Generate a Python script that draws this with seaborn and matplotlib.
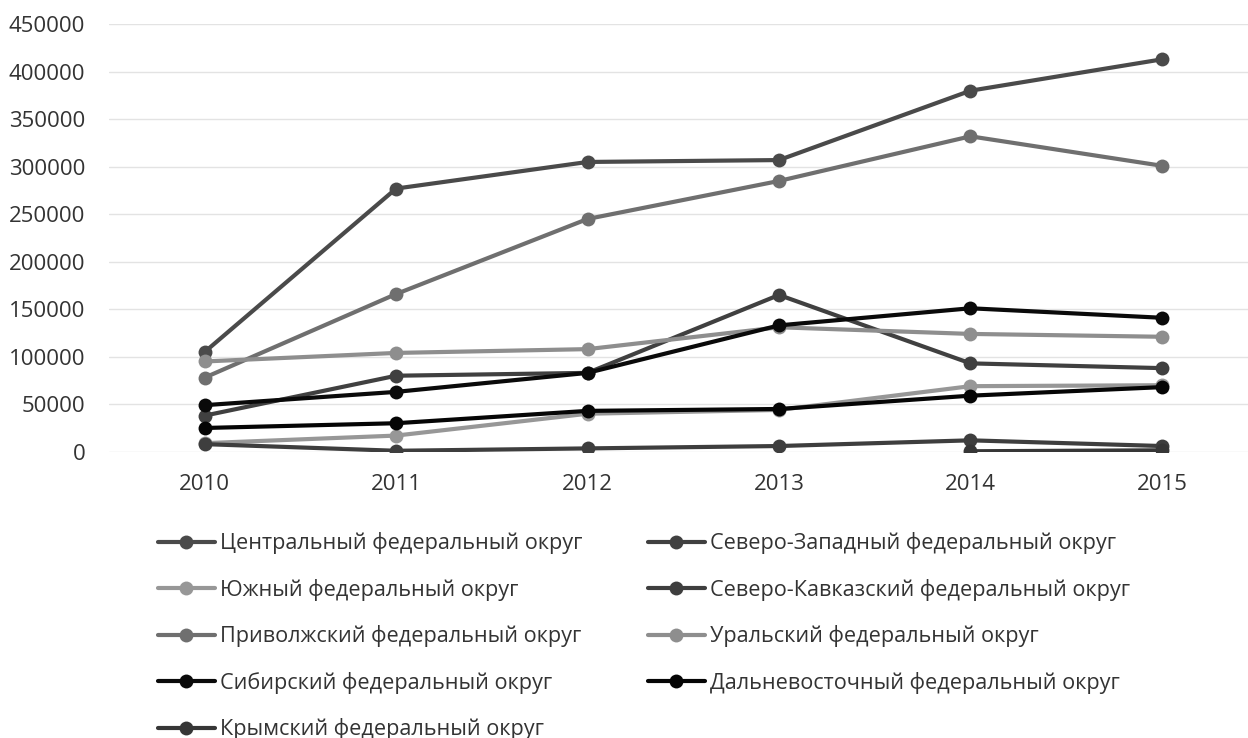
import numpy as np
import pandas as pd
import matplotlib
matplotlib.use("Agg")
import matplotlib.pyplot as plt
import seaborn as sns

years = [2010, 2011, 2012, 2013, 2014, 2015]

central = [105000, 277000, 305000, 307000, 380000, 413000]
northwest = [38000, 80000, 83000, 165000, 93000, 88000]
south = [9000, 17000, 40000, 44000, 69000, 70000]
north_caucasus = [8000, 1000, 3500, 6000, 12000, 6000]
volga = [78000, 166000, 245000, 285000, 332000, 301000]
ural = [95000, 104000, 108000, 131000, 124000, 121000]
siberian = [49000, 63000, 83000, 133000, 151000, 141000]
far_east = [25000, 30000, 43000, 45000, 59000, 68000]
crimea = [np.nan, np.nan, np.nan, np.nan, 500, 1500]

names = [
    "Центральный федеральный округ",
    "Северо-Западный федеральный округ",
    "Южный федеральный округ",
    "Северо-Кавказский федеральный округ",
    "Приволжский федеральный округ",
    "Уральский федеральный округ",
    "Сибирский федеральный округ",
    "Дальневосточный федеральный округ",
    "Крымский федеральный округ",
]
series = [central, northwest, south, north_caucasus, volga, ural,
          siberian, far_east, crimea]
colors = ["#4a4a4a", "#404040", "#979797", "#3e3e3e", "#6f6f6f",
          "#8e8e8e", "#0a0a0a", "#050505", "#363636"]

y_ticks = [0, 50000, 100000, 150000, 200000, 250000, 300000, 350000,
           400000, 450000]

sns.set_theme(style="white")
plt.rcParams["font.family"] = ["Open Sans", "DejaVu Sans"]

fig = plt.figure(figsize=(12.48, 7.38), dpi=100)
# category axis: each year sits in the middle of its own slot
ax = fig.add_axes([0.0873, 0.3879, 0.9204, 0.5793])

for name, vals, col in zip(names, series, colors):
    df = pd.DataFrame({"year": years, "value": vals})
    sns.lineplot(data=df, x="year", y="value", ax=ax, color=col,
                 linewidth=3.0, marker="o", markersize=10,
                 markeredgewidth=0, label=name)

ax.set_xlim(years[0] - 0.5, years[-1] + 0.5)
ax.set_ylim(0, 450000)
ax.set_yticks(y_ticks)
ax.set_yticklabels([str(v) for v in y_ticks])
ax.set_xticks(years)
ax.set_xticklabels([str(y) for y in years])
ax.grid(axis="y", color="#e3e3e3", linewidth=1.0)
ax.grid(axis="x", visible=False)
for s in ax.spines.values():
    s.set_visible(False)
ax.tick_params(axis="both", length=0, labelsize=16, colors="#333333")
ax.tick_params(axis="y", pad=17)
ax.tick_params(axis="x", pad=16)
ax.set_xlabel("")
ax.set_ylabel("")

# legend entries read across rows: two columns
handles, labels = ax.get_legend_handles_labels()
ax.get_legend().remove()
order = [0, 2, 4, 6, 8, 1, 3, 5, 7]
fig.legend([handles[i] for i in order], [labels[i] for i in order],
           ncol=2, loc="upper left",
           bbox_to_anchor=(0.1266, 0.2785), frameon=False,
           borderpad=0, borderaxespad=0,
           fontsize=15.6, handlelength=2.63, handletextpad=0.25,
           columnspacing=3.0, labelspacing=1.13, labelcolor="#333333")

fig.savefig("out.png", dpi=100)
